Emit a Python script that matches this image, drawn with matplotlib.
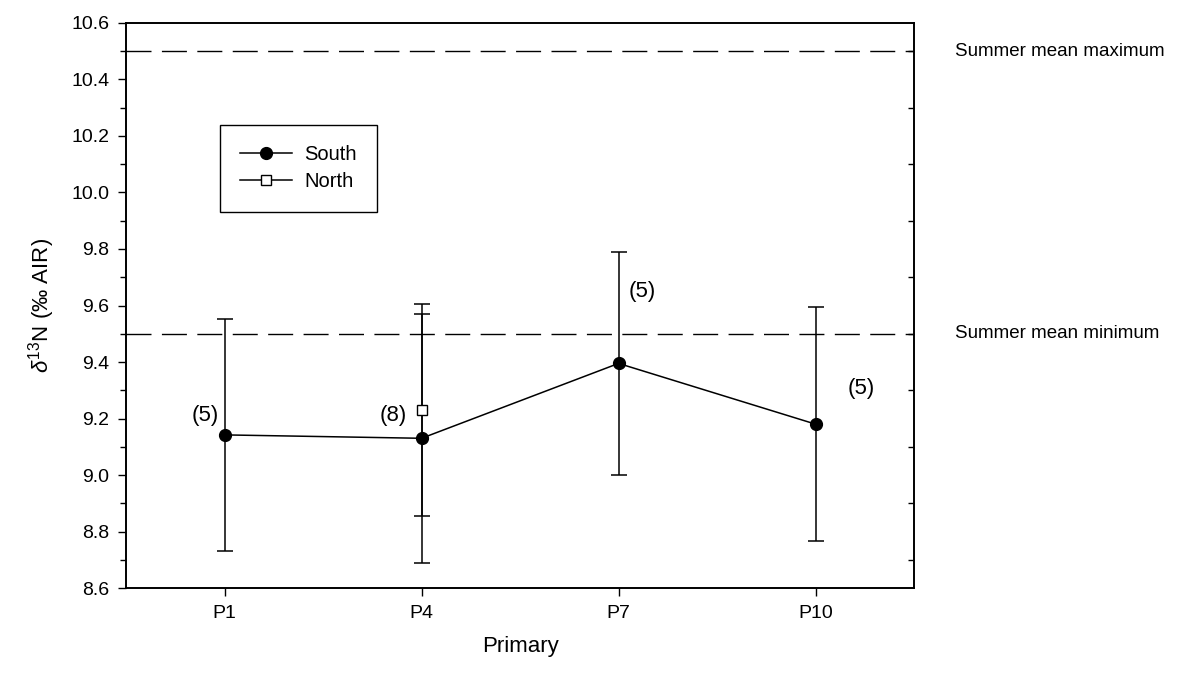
import matplotlib
import matplotlib.pyplot as plt
from matplotlib.ticker import MultipleLocator, FixedLocator

matplotlib.use('Agg')

plt.rcParams['font.family'] = ['Liberation Sans', 'DejaVu Sans']
plt.rcParams['mathtext.fontset'] = 'custom'
plt.rcParams['mathtext.rm'] = 'Liberation Sans'
plt.rcParams['mathtext.it'] = 'Liberation Sans:italic'
plt.rcParams['lines.scale_dashes'] = False

# 数据
primaries = ['P1', 'P4', 'P7', 'P10']
south_mean = [9.142, 9.13, 9.395, 9.18]
south_err = [0.41, 0.44, 0.395, 0.415]
south_n = ['(5)', '(8)', '(5)', '(5)']
north_mean = [9.23]
north_err = [0.375]
north_idx = [1]
summer_min = 9.5
summer_max = 10.5

x = list(range(1, len(primaries) + 1))
north_x = [x[i] for i in north_idx]

fig = plt.figure(figsize=(12.04, 6.82), dpi=100)
ax = fig.add_axes([0.1047, 0.1378, 0.6545, 0.8285])

# 夏季均值上下限
for yv in (summer_min, summer_max):
    ax.axhline(yv, color='black', lw=1.0, linestyle=(0, (18, 7.5)), zorder=1)
ax.text(1.052, summer_max, 'Summer mean maximum', transform=ax.get_yaxis_transform(),
        va='center', ha='left', fontsize=13.5)
ax.text(1.052, summer_min, 'Summer mean minimum', transform=ax.get_yaxis_transform(),
        va='center', ha='left', fontsize=13.5)

ax.errorbar(north_x, north_mean, yerr=north_err, fmt='none', ecolor='black',
            elinewidth=1.1, capsize=5.8, capthick=1.1, zorder=2)
ax.errorbar(x, south_mean, yerr=south_err, fmt='none', ecolor='black',
            elinewidth=1.1, capsize=5.8, capthick=1.1, zorder=2)
ax.plot(x, south_mean, '-o', color='black', lw=1.1, ms=8.5, label='South', zorder=4)
ax.plot(north_x, north_mean, '-s', color='black', mfc='white', mec='black', mew=1.0,
        lw=1.1, ms=7, label='North', zorder=3)

# 样本数标注
label_pos = [(0.972, 9.21, 'right'), (1.926, 9.21, 'right'), (3.05, 9.648, 'left'),
             (4.165, 9.305, 'left')]
for (lx, ly, ha), s in zip(label_pos, south_n):
    ax.text(lx, ly, s, fontsize=16, ha=ha, va='center')

ax.set_xlim(0.5, 4.5)
ax.set_ylim(8.6, 10.6)
ax.set_xticks(x)
ax.set_xticklabels(primaries)
ax.yaxis.set_major_locator(MultipleLocator(0.2))
ax.yaxis.set_minor_locator(MultipleLocator(0.1))
ax.yaxis.set_major_formatter(matplotlib.ticker.FormatStrFormatter('%.1f'))
ax.tick_params(axis='both', which='major', direction='out', length=6, width=1.0,
               labelsize=14, pad=6, right=False, top=False)
ax.tick_params(axis='y', which='minor', direction='out', length=4, width=1.0)

# 右侧内向次刻度
ax2 = ax.twinx()
ax2.set_ylim(ax.get_ylim())
ax2.yaxis.set_major_locator(FixedLocator([]))
ax2.yaxis.set_minor_locator(FixedLocator([8.7, 8.9, 9.1, 9.3, 9.5, 9.7, 9.9, 10.1, 10.3, 10.5]))
ax2.tick_params(axis='y', which='minor', direction='in', length=4, width=1.0)
ax2.tick_params(axis='y', which='major', length=0, labelright=False)

for a in (ax, ax2):
    for sp in a.spines.values():
        sp.set_linewidth(1.2)

ax.set_xlabel('Primary', fontsize=16, labelpad=10)
ax.set_ylabel(r'$\delta^{13}$N (‰ AIR)', fontsize=16, labelpad=10)

leg = ax.legend(loc='upper left', bbox_to_anchor=(0.119, 0.819), borderaxespad=0,
                fancybox=False, edgecolor='black', framealpha=1, fontsize=14.5,
                handlelength=2.6, borderpad=1.0, labelspacing=0.4, handletextpad=0.6)
leg.get_frame().set_linewidth(1.0)
leg.set_zorder(5)

fig.savefig('out.png', dpi=100)
